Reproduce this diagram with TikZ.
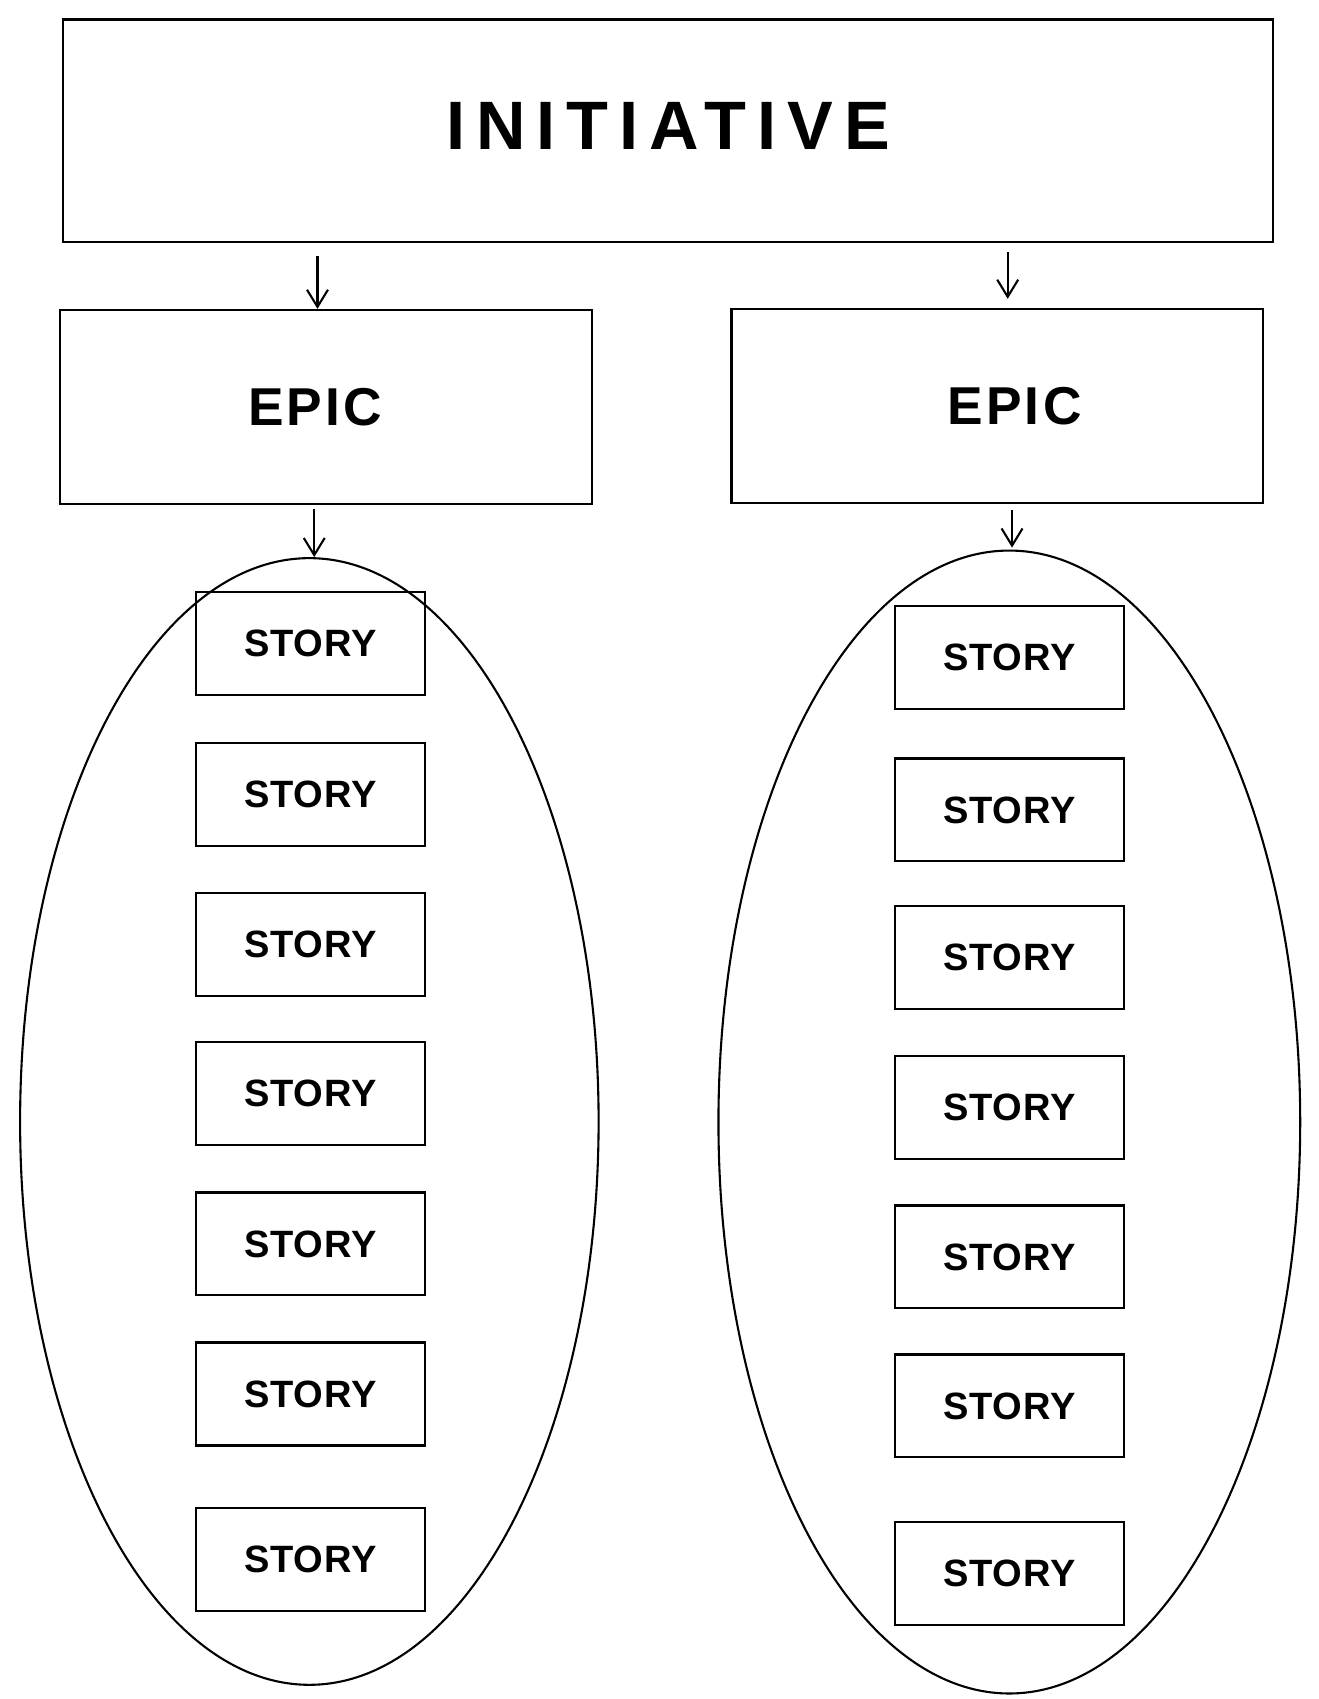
\documentclass[tikz,border=0pt]{standalone}
\usepackage{fontspec}
\setmainfont{Liberation Sans}[LetterSpace=6]
\usetikzlibrary{shapes.geometric, arrows.meta, positioning}

\begin{document}
\begin{tikzpicture}[x=0.02cm, y=-0.02cm,
  line width=1.1pt,
  bigbox/.style={draw, minimum width=22.34cm, minimum height=4.1cm, font=\fontsize{36}{40}\selectfont\bfseries\addfontfeature{LetterSpace=16}},
  epicbox/.style={draw, minimum width=9.82cm, minimum height=3.58cm, font=\fontsize{28}{32}\selectfont\bfseries},
  storybox/.style={draw, minimum width=4.22cm, minimum height=1.9cm, font=\fontsize{20}{24}\selectfont\bfseries\addfontfeature{LetterSpace=2}},
  group/.style={draw, ellipse, inner sep=0pt},
  arr/.style={-{Straight Barb[length=9pt, width=11pt]}}
]
  \useasboundingbox (0,0) rectangle (1217,1568);

  \node[bigbox] (init) at (616.5,120.5) {\raisebox{4.5pt}{INITIATIVE}};
  \node[epicbox] (epicL) at (300.5,375.5) {\hspace*{-11pt}EPIC};
  \node[epicbox] (epicR) at (920.5,375) {\hspace*{18pt}EPIC};

  \node[group, minimum width=10.68cm, minimum height=20.8cm] (grpL) at (285.5,1035) {};
  \node[group, minimum width=10.74cm, minimum height=21.1cm] (grpR) at (931.5,1035.5) {};

  % stories
  \foreach \y [count=\i] in {594, 733.5, 871.5, 1009, 1148, 1286.5, 1439.5}
    \node[storybox] (sL\i) at (286.5,\y) {STORY};
  \foreach \y [count=\i] in {607, 747.5, 884, 1022, 1160, 1297.5, 1452.5}
    \node[storybox] (sR\i) at (931.5,\y) {STORY};

  \draw[arr, shorten <=7pt] (init.south -| 293,0) coordinate (aL) -- (aL |- epicL.north);
  \draw[arr, shorten <=5pt, shorten >=5pt] (init.south -| 930,0) coordinate (aR) -- (aR |- epicR.north);
  \draw[arr, shorten <=2pt] (epicL.south -| 290,0) coordinate (bL) -- (bL |- grpL.north);
  \draw[arr, shorten <=3pt, shorten >=1pt] (epicR.south -| 934,0) coordinate (bR) -- (bR |- grpR.north);
\end{tikzpicture}
\end{document}
